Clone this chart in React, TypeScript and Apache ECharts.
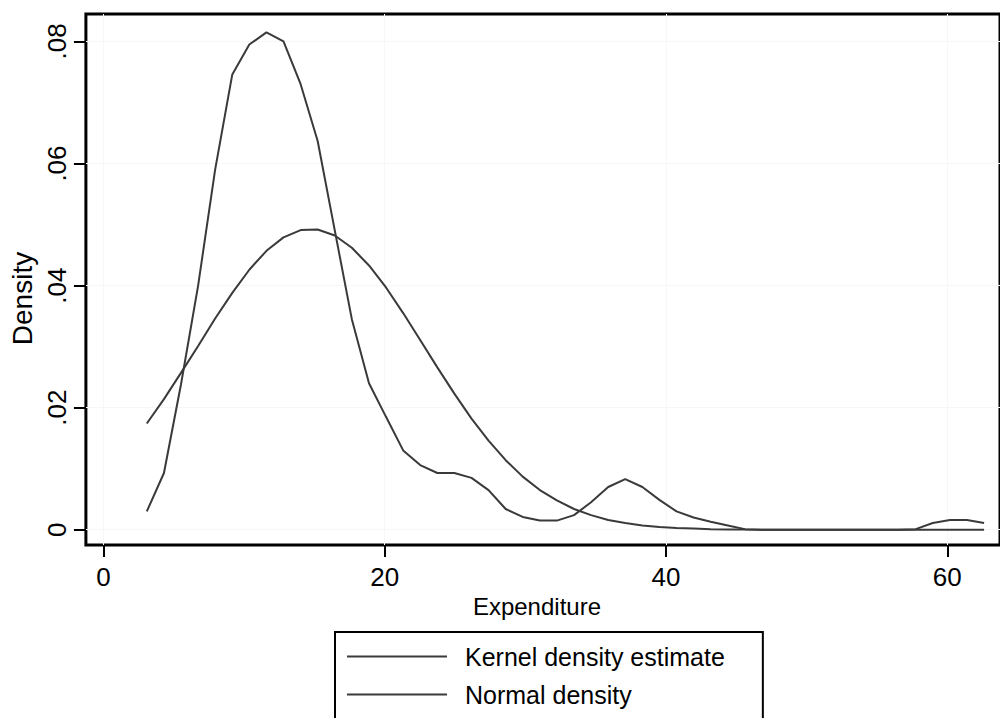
import React, { useEffect, useRef } from "react";
import * as echarts from "echarts";

const expenditure = [3.08, 4.3, 5.51, 6.73, 7.94, 9.16, 10.37, 11.59, 12.8, 14.02, 15.23, 16.45, 17.66, 18.88, 20.09, 21.31, 22.52, 23.74, 24.95, 26.17, 27.38, 28.6, 29.81, 31.03, 32.24, 33.46, 34.67, 35.89, 37.1, 38.32, 39.53, 40.75, 41.96, 43.18, 44.39, 45.61, 46.82, 48.04, 49.25, 50.47, 51.68, 52.9, 54.11, 55.33, 56.54, 57.76, 58.97, 60.19, 61.4, 62.62];

const kernelDensity = [0.003, 0.0093, 0.0238, 0.04, 0.059, 0.0746, 0.0795, 0.0815, 0.08, 0.073, 0.0637, 0.049, 0.0345, 0.024, 0.0185, 0.013, 0.0106, 0.0093, 0.0093, 0.0085, 0.0065, 0.0034, 0.0021, 0.0015, 0.0015, 0.0024, 0.0045, 0.007, 0.0083, 0.007, 0.0049, 0.003, 0.002, 0.0013, 0.0007, 0.0001, 0, 0, 0, 0, 0, 0, 0, 0, 0, 0.0001, 0.0011, 0.0016, 0.0016, 0.0011];

const normalDensity = [0.0174, 0.0214, 0.0257, 0.0301, 0.0346, 0.0388, 0.0426, 0.0457, 0.0479, 0.0491, 0.0492, 0.0482, 0.0462, 0.0433, 0.0397, 0.0355, 0.0311, 0.0266, 0.0223, 0.0182, 0.0146, 0.0114, 0.0087, 0.0065, 0.0048, 0.0034, 0.0024, 0.0016, 0.0011, 0.0007, 0.00045, 0.0003, 0.0002, 0.0001, 0.00006, 0.00003, 0.00001, 0, 0, 0, 0, 0, 0, 0, 0, 0, 0, 0, 0, 0];

const xTickValues = [0, 20, 40, 60];
const yTickValues = [0, 0.02, 0.04, 0.06, 0.08];
const yTickLabels = ["0", ".02", ".04", ".06", ".08"];
const seriesNames = ["Kernel density estimate", "Normal density"];

const FONT = "'Liberation Sans', Arial, sans-serif";

export default function App() {
  const ref = useRef<HTMLDivElement>(null);
  useEffect(() => {
    document.body.style.margin = "0";
    const chart = echarts.init(ref.current!, null, { renderer: "svg" });
    const lineColor = "#3a3a3a";
    const legendText = { fontSize: 25, color: "#000", fontFamily: FONT, padding: [0, 0, 0, 13] };
    chart.setOption({
      animation: false,
      backgroundColor: "#fff",
      textStyle: { fontFamily: FONT },
      grid: {
        left: 83,
        top: 14,
        right: -10,
        bottom: 173,
        show: true,
        borderColor: "#000",
        borderWidth: 3,
        backgroundColor: "#fff",
      },
      xAxis: {
        type: "value",
        min: -1.25,
        max: 63.75,
        interval: 1.25,
        axisLine: { show: false, onZero: false },
        axisTick: {
          show: true,
          customValues: xTickValues,
          length: 12,
          lineStyle: { color: "#000", width: 2 },
        },
        axisLabel: {
          customValues: xTickValues,
          fontSize: 26,
          color: "#000",
          margin: 19,
          fontFamily: FONT,
        },
        splitLine: { show: true, lineStyle: { color: "#f7f7f7", width: 1 } },
        name: "Expenditure",
        nameLocation: "middle",
        nameGap: 44,
        nameTextStyle: { fontSize: 24, color: "#000", fontFamily: FONT, padding: [0, 12, 0, 0] },
      },
      yAxis: {
        type: "value",
        min: -0.0025,
        max: 0.0845,
        interval: 0.0025,
        axisLine: { show: false, onZero: false },
        axisTick: {
          show: true,
          customValues: yTickValues,
          length: 12,
          lineStyle: { color: "#000", width: 2 },
        },
        axisLabel: {
          customValues: yTickValues,
          rotate: 90,
          fontSize: 26,
          color: "#000",
          margin: 16,
          fontFamily: FONT,
          formatter: (v: number) => {
            const i = yTickValues.findIndex((t) => Math.abs(t - v) < 1e-9);
            return i >= 0 ? yTickLabels[i] : "";
          },
        },
        splitLine: { show: true, lineStyle: { color: "#f7f7f7", width: 1 } },
        name: "Density",
        nameLocation: "middle",
        nameGap: 38,
        nameTextStyle: { fontSize: 28, color: "#000", fontFamily: FONT, padding: [0, 38, 0, 0] },
      },
      legend: [
        {
          left: 335,
          top: 632,
          orient: "vertical",
          data: [seriesNames[0]],
          icon: "rect",
          itemWidth: 100,
          itemHeight: 2,
          padding: [12, 38, 62, 12],
          borderColor: "#000",
          borderWidth: 2,
          backgroundColor: "#fff",
          textStyle: legendText,
        },
        {
          left: 335,
          top: 670,
          z: 10,
          orient: "vertical",
          data: [seriesNames[1]],
          icon: "rect",
          itemWidth: 100,
          itemHeight: 2,
          padding: [12, 30, 12, 12],
          borderWidth: 0,
          backgroundColor: "transparent",
          textStyle: legendText,
        },
      ],
      series: [
        {
          name: seriesNames[0],
          type: "line",
          data: expenditure.map((x, i) => [x, kernelDensity[i]]),
          symbol: "none",
          color: lineColor,
          lineStyle: { color: lineColor, width: 2 },
        },
        {
          name: seriesNames[1],
          type: "line",
          data: expenditure.map((x, i) => [x, normalDensity[i]]),
          symbol: "none",
          color: lineColor,
          lineStyle: { color: lineColor, width: 2 },
        },
      ],
    });
    return () => chart.dispose();
  }, []);
  return <div ref={ref} style={{ width: 1000, height: 718 }} />;
}
